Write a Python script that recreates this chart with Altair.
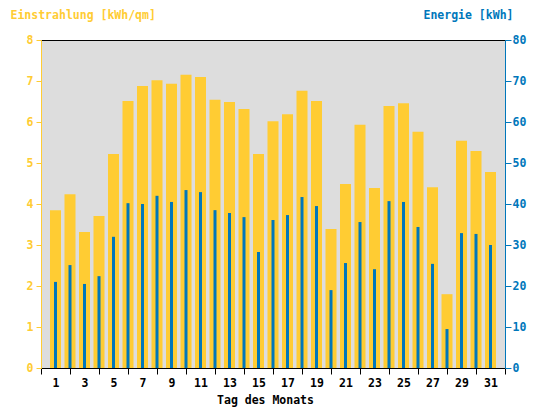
import altair as alt
import pandas as pd

days = list(range(1, 32))
einstrahlung = [3.85, 4.24, 3.32, 3.71, 5.22, 6.51, 6.88, 7.02, 6.93, 7.15, 7.10,
                6.54, 6.49, 6.32, 5.22, 6.02, 6.19, 6.76, 6.51, 3.39, 4.49, 5.93,
                4.39, 6.39, 6.46, 5.76, 4.41, 1.80, 5.54, 5.29, 4.78]
energie = [21.0, 25.1, 20.5, 22.4, 32.0, 40.2, 40.0, 42.0, 40.5, 43.4, 42.9,
           38.5, 37.8, 36.8, 28.3, 36.1, 37.3, 41.7, 39.5, 19.0, 25.6, 35.6,
           24.1, 40.7, 40.5, 34.4, 25.4, 9.5, 32.9, 32.7, 30.0]
x_ticks = list(range(0, 33))
left_ticks = list(range(0, 9))
right_ticks = list(range(0, 81, 10))

df = pd.DataFrame({"Tag": days, "Einstrahlung": einstrahlung, "Energie": energie})

YELLOW = "#FFCC33"
BLUE = "#0077BB"
FONT = "DejaVu Sans Mono"

xscale = alt.Scale(domain=[0, 32], nice=False, zero=False, padding=0)

x_bottom = alt.X(
    "Tag:Q", scale=xscale,
    axis=alt.Axis(
        orient="bottom", values=x_ticks, title="Tag des Monats", grid=False,
        labelExpr="datum.value % 2 == 1 ? datum.label : ''",
        labelOverlap=False, labelFlush=False,
        tickOpacity={"condition": {"test": "datum.value % 2 == 1", "value": 0}, "value": 1},
        tickColor="black", tickSize=6, domainColor="black",
        labelColor="black", labelFont=FONT, labelFontSize=11.5, labelFontWeight="bold",
        labelPadding=3,
        titleFont=FONT, titleFontSize=11.5, titleFontWeight="bold", titleColor="black",
        titleX=224, titleY=35, titleAlign="center", titleBaseline="alphabetic",
    ),
)

x_top = alt.X(
    "Tag:Q", scale=xscale,
    axis=alt.Axis(orient="top", labels=False, ticks=False, title=None, grid=False,
                  domainColor="black"),
)

yellow = alt.Chart(df).mark_bar(color=YELLOW, size=11).encode(
    x=x_bottom,
    y=alt.Y("Einstrahlung:Q", scale=alt.Scale(domain=[0, 8], nice=False),
            axis=alt.Axis(
                orient="left", values=left_ticks, grid=False, format="d",
                title="Einstrahlung [kWh/qm]",
                domainColor=YELLOW, tickColor=YELLOW, tickSize=5,
                labelColor=YELLOW, labelFont=FONT, labelFontSize=11.5,
                labelFontWeight="bold", labelPadding=3,
                titleAngle=0, titleX=-31, titleY=-31, titleAlign="left",
                titleBaseline="top", titleColor=YELLOW, titleFont=FONT,
                titleFontSize=11.5, titleFontWeight="bold",
            )),
)

blue = alt.Chart(df).mark_bar(color=BLUE, size=3).encode(
    x=x_top,
    y=alt.Y("Energie:Q", scale=alt.Scale(domain=[0, 80], nice=False),
            axis=alt.Axis(
                orient="right", values=right_ticks, grid=False, format="d",
                title="Energie [kWh]",
                domainColor=BLUE, tickColor=BLUE, tickSize=6,
                labelColor=BLUE, labelFont=FONT, labelFontSize=11.5,
                labelFontWeight="bold", labelPadding=1,
                titleAngle=0, titleX=8, titleY=-31, titleAlign="right",
                titleBaseline="top", titleColor=BLUE, titleFont=FONT,
                titleFontSize=11.5, titleFontWeight="bold",
            )),
)

chart = (
    alt.layer(yellow, blue)
    .resolve_scale(y="independent")
    .resolve_axis(x="independent")
    .properties(
        width=464, height=328,
        autosize=alt.AutoSizeParams(type="none"),
        padding={"left": 33, "top": 32, "right": 31, "bottom": 40},
        background="white",
    )
    .configure_view(fill="#DDDDDD", stroke="transparent")
)

chart.save("out.html", embed_options={"renderer": "svg", "actions": False})
